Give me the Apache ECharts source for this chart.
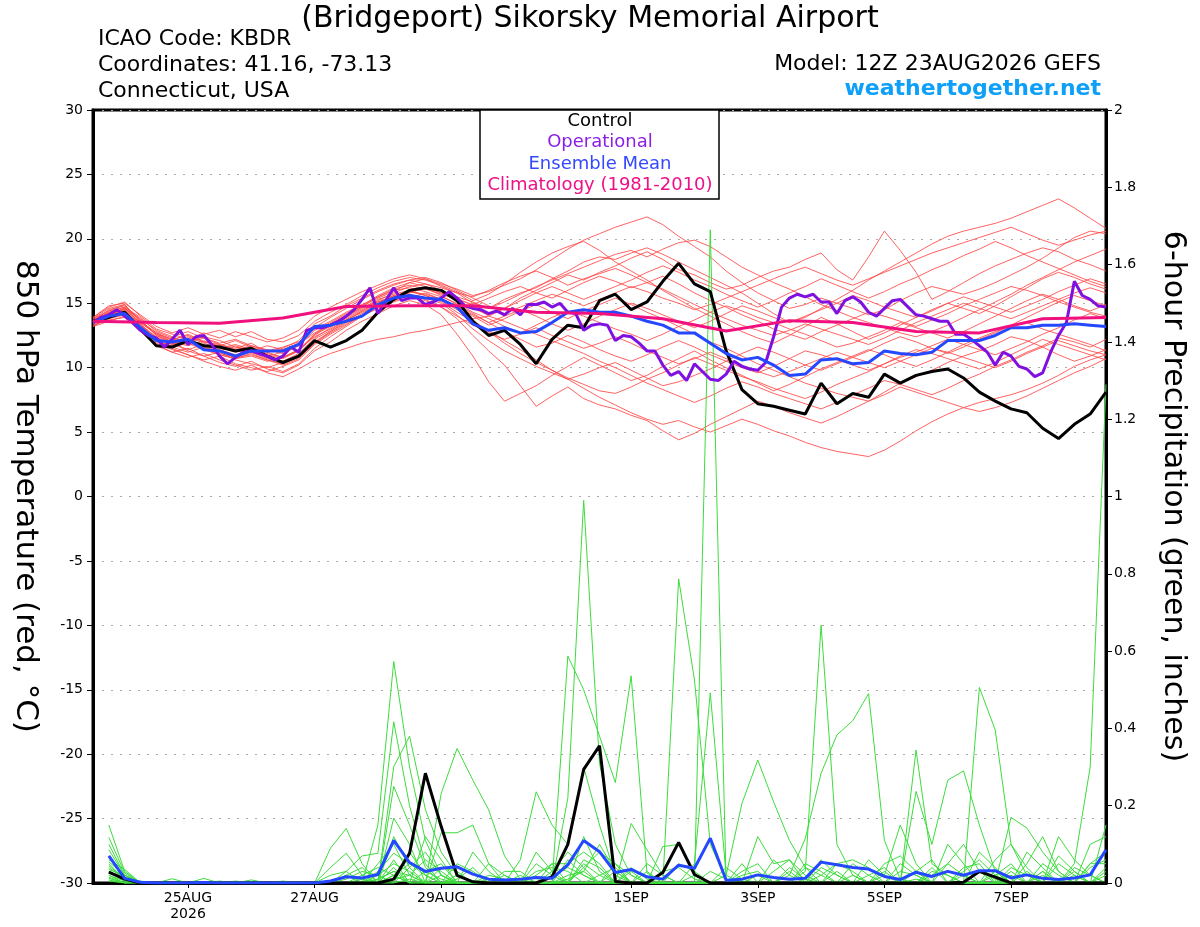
<!DOCTYPE html>
<html><head><meta charset="utf-8">
<script src="https://cdn.jsdelivr.net/npm/echarts@6/dist/echarts.min.js"></script>
<style>html,body{margin:0;padding:0;background:#fff}#c{width:1200px;height:927px}</style>
</head><body><div id="c"></div>
<script>
// ---- axis ticks (forecast hours from 12Z 23AUG2026) ----
const tickHours = [36, 84, 132, 204, 252, 300, 348];
const tickLabels = ['25AUG\n2026', '27AUG', '29AUG', '1SEP', '3SEP', '5SEP', '7SEP'];

// ---- 850 hPa temperature, 6-hourly from hour 0 ----
const controlT = [13.6,13.9,14.3,13.0,11.7,11.6,12.1,11.7,11.6,11.3,11.5,10.9,10.4,10.9,12.1,11.6,12.1,12.9,14.3,15.3,16.0,16.2,16.0,15.2,13.6,12.5,12.9,11.8,10.3,12.2,13.3,13.1,15.2,15.7,14.5,15.1,16.7,18.1,16.5,15.9,11.3,8.3,7.2,7.0,6.7,6.4,8.8,7.2,8.0,7.7,9.5,8.8,9.4,9.7,9.9,9.2,8.1,7.4,6.8,6.5,5.3,4.5,5.6,6.4,8.1];
const meanT = [13.5,14.0,14.2,13.1,12.1,12.0,12.2,11.4,11.3,10.9,11.3,11.3,11.3,11.8,13.2,13.3,13.6,14.0,14.9,15.4,15.6,15.4,15.3,14.7,13.4,12.9,13.1,12.7,12.8,13.5,14.3,14.5,14.3,14.3,14.0,13.6,13.3,12.7,12.7,11.9,11.1,10.6,10.8,10.2,9.4,9.5,10.6,10.7,10.3,10.4,11.3,11.1,11.0,11.2,12.1,12.1,12.1,12.5,13.1,13.1,13.3,13.3,13.4,13.3,13.2];
// operational run, 3-hourly from hour 0
const operationalT = [13.5,13.9,14.1,14.5,14.0,13.5,12.9,12.5,12.3,11.6,
12.2,12.9,11.8,12.4,12.5,11.8,10.9,10.3,10.8,11.2,
11.3,11.1,10.9,10.6,10.9,11.6,11.2,12.9,13.1,13.1,
13.3,13.6,14.0,14.5,15.3,16.2,14.2,15.2,16.2,15.2,
15.4,15.4,14.9,15.1,15.4,15.9,15.4,14.8,14.6,14.5,
14.2,14.4,14.1,14.6,14.1,14.9,14.9,15.1,14.7,15.0,
14.3,14.2,12.9,13.3,13.4,13.3,12.1,12.5,12.4,11.9,
11.3,11.3,10.2,9.4,9.7,9.0,10.3,9.7,9.1,9.0,
9.5,10.5,10.1,9.9,9.8,10.4,12.4,14.7,15.4,15.7,
15.5,15.7,15.1,15.1,14.2,15.2,15.5,15.1,14.3,14.0,
14.6,15.2,15.3,14.7,14.1,14.0,13.8,13.6,13.6,12.6,
12.6,12.2,11.7,11.2,10.2,11.2,10.9,10.1,9.9,9.3,
9.6,11.2,12.5,13.5,16.7,15.6,15.3,14.8,14.7];
// climatology, daily (every 24 h from hour 0)
const climT = [13.6,13.5,13.45,13.85,14.75,14.8,14.8,14.3,14.2,13.8,12.85,13.65,13.5,12.8,12.7,13.8,13.9];

// ensemble members (temperature), 6-hourly
const tMem01 = [13.8,14.6,14.9,13.5,12.6, 12.2,12.5,12.0,11.8,11.5,11.9,11.2,10.8,11.4, 12.6,13.2,13.8,14.5,15.2, 15.8,16.3,16.5,16.2,15.8,15.0, 14.6,15.3,15.8,16.2,16.9,17.5,18.2,18.6, 18.4,18.9,19.3,18.8,18.2,17.6,17.0,16.4, 15.8,15.0,14.2,13.5,13.9,14.6,15.3,16.0, 16.8,17.5,18.2,18.9,19.6,20.2,20.6,20.9, 21.2,21.6,22.1,22.6,23.1,22.4,21.6,20.8];
const tMem02 = [13.6,14.2,14.5,13.2,12.2, 11.6,11.9,11.4,11.0,10.7,11.1,10.6,10.3,10.8, 11.9,12.8,13.6,14.4,15.0, 15.6,15.9,16.2,15.8,15.4,14.8, 14.0,14.6,15.4,16.0,16.6,17.2,16.8,17.4, 17.9,18.5,19.0,18.4,17.6,17.2,16.6,16.1, 16.4,17.0,17.5,17.8,18.4,18.9,17.6,16.8, 18.6,20.6,19.1,17.4,15.3,15.9,16.6,17.3, 17.9,18.4,18.9,19.3,19.0,18.4,18.0,17.5];
const tMem03 = [13.4,14.0,14.6,13.8,12.9, 12.4,12.8,12.3,11.9,12.2,11.7,11.4,11.1,11.7, 12.9,13.5,14.2,14.8,15.4, 15.9,16.6,16.9,16.5,16.1,15.6, 15.9,16.4,16.9,17.6,18.4,19.2,19.9,20.4, 20.9,21.3,21.7,21.1,20.2,19.4,18.6,17.5, 16.6,15.8,15.2,14.6,14.9,15.4,15.0,14.6, 14.1,14.5,15.2,15.8,16.3,16.0,15.7,16.1, 16.6,17.2,17.8,18.5,19.3,20.1,20.6,20.4];
const tMem04 = [13.9,14.8,15.0,14.1,13.2, 12.7,13.1,12.6,12.9,12.4,12.8,12.2,12.0,12.5, 13.6,14.3,14.9,15.6,16.2, 16.7,17.0,16.8,16.4,15.9,15.2, 15.7,16.5,17.4,18.2,18.9,19.4,19.8,19.1, 18.2,17.5,16.8,16.0,15.3,14.6,14.0,13.4, 12.8,12.3,11.9,12.5,13.2,13.9,13.4,12.8, 12.2,12.7,13.3,13.9,14.5,15.0,14.6,14.2, 14.8,15.5,16.2,16.9,17.4,17.0,16.5,16.1];
const tMem05 = [13.2,13.9,14.2,13.0,11.8, 11.2,11.5,10.9,10.4,10.1,10.5,9.9,9.6,10.2, 11.3,12.0,12.9,13.6,14.2, 14.8,15.2,14.9,14.1,12.6,10.9, 8.9,7.4,8.0,8.6,9.4,10.1,10.8,10.2, 9.6,9.0,9.4,10.1,10.7,11.3,10.6,10.0, 9.4,8.8,8.2,8.7,9.3,9.9,10.4,10.9, 11.4,11.0,10.5,10.1,10.6,11.2,11.8,12.3, 12.8,13.2,13.5,13.0,12.6,12.2,11.8,11.3];
const tMem06 = [13.5,14.3,14.7,13.4,12.1, 11.5,11.0,10.6,10.9,10.3,10.0,9.7,10.1,10.6, 11.8,12.6,13.3,14.1,14.8, 15.2,15.6,15.3,14.7,13.8,12.5, 11.3,10.2,8.6,7.0,7.8,8.5,7.6,7.1, 6.8,6.3,5.9,5.1,4.4,4.9,5.6,6.2, 6.8,7.4,7.0,6.5,6.1,5.7,6.2,6.8, 7.4,8.1,8.8,9.3,9.8,10.4,10.9,11.3, 11.8,12.4,12.1,11.6,11.0,10.5,10.9,11.4];
const tMem07 = [13.7,14.1,14.3,13.1,12.0, 11.7,12.1,11.6,11.3,11.7,11.2,10.8,10.5,11.1, 12.3,13.1,13.9,14.6,15.3, 15.7,16.0,15.6,15.1,14.3,13.6, 12.9,12.1,11.4,10.6,9.8,9.1,8.4,7.7, 7.1,6.5,6.0,5.6,5.9,5.4,5.0,5.5, 6.0,5.6,5.1,4.7,4.2,3.8,3.5,3.3, 3.1,3.6,4.3,5.1,5.8,6.4,6.9,7.3, 7.6,7.9,8.3,8.8,9.4,10.1,10.6,11.0];
const tMem08 = [13.3,13.8,14.1,13.6,12.7, 12.2,11.9,12.3,11.8,11.4,11.7,11.3,11.6,12.0, 13.0,13.6,14.3,14.9,15.5, 16.0,16.2,15.9,15.5,15.0,14.3, 13.8,13.2,12.7,13.3,13.9,14.4,14.0,13.5, 13.0,12.6,12.1,12.6,13.2,13.7,14.3,14.8, 14.4,13.9,13.5,13.0,12.6,12.1,11.6,11.9, 12.4,12.9,13.5,13.1,12.7,12.3,12.8,13.4, 14.0,14.6,15.2,15.7,15.3,14.8,14.4,14.9];
const tMem09 = [13.6,14.5,14.8,13.7,12.5, 11.9,11.4,11.8,11.3,10.8,11.0,10.6,10.2,10.7, 11.9,12.7,13.4,14.0,14.7, 15.3,15.7,15.4,15.0,14.1,13.0, 12.1,11.3,10.7,10.1,9.6,9.1,9.5,10.0, 10.4,9.8,9.2,8.6,8.9,9.4,9.9,10.5, 11.1,11.6,11.2,10.7,10.2,9.8,10.3,10.8, 11.3,11.9,12.4,12.0,11.5,11.1,11.6,12.2, 12.7,13.3,13.9,14.5,15.1,15.6,15.2,14.8];
const tMem10 = [13.4,14.2,14.4,13.3,12.4, 11.8,12.2,11.7,11.4,11.0,11.4,10.9,11.2,11.8, 12.7,13.4,14.0,14.7,15.5, 16.1,16.4,16.1,15.7,15.3,14.9, 15.4,15.9,16.3,15.8,15.4,16.0,16.6,17.1, 16.7,16.2,16.6,17.1,16.5,15.8,15.2,14.7, 14.1,13.6,13.0,12.6,12.2,12.8,13.3,13.8, 14.3,14.0,13.6,13.2,13.7,14.2,14.8,15.3, 15.8,16.3,16.0,15.6,15.1,14.7,14.3,14.0];
const tMem11 = [13.5,14.0,14.4,13.2,12.3, 11.9,11.3,10.9,11.2,10.6,10.3,10.0,10.4,11.0, 12.2,12.9,13.7,14.3,14.9, 15.4,15.8,16.2,15.6,14.9,14.2, 13.5,12.8,12.2,11.6,11.9,12.5,12.0,11.4, 10.9,10.5,11.0,11.6,12.1,11.6,11.0,10.5, 10.0,9.6,10.1,10.7,11.3,11.0,10.6,10.2, 9.8,10.3,10.9,11.4,11.1,10.7,10.3,9.9, 10.4,11.0,11.6,12.2,11.8,11.4,11.0,10.6];
const tMem12 = [13.8,14.4,14.7,13.9,12.8, 12.3,12.0,12.4,12.1,11.6,11.3,11.7,11.4,11.9, 13.1,13.9,14.6,15.3,15.9, 16.4,16.8,16.5,16.0,15.5,15.1, 14.6,15.1,15.7,16.3,16.8,17.3,17.8,18.3, 18.8,19.1,18.6,19.2,19.7,19.9,19.4,18.6, 17.8,17.2,16.6,16.1,15.5,14.9,14.4,13.9, 13.5,13.1,12.7,12.4,12.8,13.3,13.9,14.5, 15.1,15.7,16.4,17.0,17.6,18.2,18.7,19.2];
const tMem13 = [13.6,14.3,14.5,13.5,12.6, 12.0,12.4,11.9,11.5,11.8,11.4,11.0,10.7,11.3, 12.5,13.3,14.0,14.7,15.1, 15.5,15.9,15.7,15.3,14.8,14.0, 13.3,13.8,14.4,14.9,14.3,13.8,14.4,14.9, 15.4,14.9,14.3,13.8,13.2,12.6,12.0,11.5, 10.9,10.3,9.8,9.3,8.8,8.4,8.0,7.7, 7.4,7.9,8.5,8.1,7.7,7.3,6.9,6.6, 6.9,7.3,7.8,8.4,9.0,9.6,10.1,10.7];
const tMem14 = [13.4,13.9,14.3,13.3,12.2, 11.6,11.2,11.6,11.0,10.7,10.9,10.5,10.8,11.4, 12.4,13.0,13.7,14.4,15.1, 15.6,15.4,15.8,15.3,14.7,14.1, 13.5,14.0,14.5,14.0,13.4,12.9,13.4,14.0, 14.5,15.0,14.6,14.1,13.6,13.1,13.6,14.2, 14.8,14.4,13.9,13.5,14.0,14.5,15.0,15.6, 15.2,14.7,14.3,13.9,14.4,15.0,15.5,15.1, 14.7,14.3,14.8,15.3,15.9,16.4,16.9,16.5];
const tMem15 = [13.3,13.7,13.9,12.9,11.9, 11.4,11.0,10.5,10.1,9.8,10.2,9.6,9.3,9.9, 10.6,11.1,11.5,11.9,12.2, 12.4,12.7,12.9,13.2,13.5,13.8, 14.0,13.6,13.1,12.6,12.1,11.6,11.1,10.5, 10.0,9.4,8.8,8.3,7.8,7.3,7.8,8.4, 8.9,8.5,8.0,7.6,7.2,6.8,7.3,7.9, 8.4,9.0,8.7,8.3,7.9,8.4,9.0,9.5, 10.1,10.6,11.2,11.7,12.3,12.0,11.6,12.2];
const tMem16 = [13.7,14.4,14.9,13.6,12.7, 12.1,12.6,12.0,11.7,12.1,11.6,11.2,11.5,12.1, 13.4,14.0,14.8,15.4,16.0, 16.5,16.8,17.0,16.6,16.0,15.4, 14.8,14.2,14.7,15.2,15.7,15.3,14.8,15.3, 15.8,16.3,15.9,15.4,15.0,14.5,14.9,15.4, 15.9,16.4,16.9,17.4,17.8,17.3,16.8,16.4, 16.9,17.4,17.9,18.4,18.9,19.3,19.7,20.1, 20.5,20.9,20.4,19.9,19.5,19.9,20.3,20.6];
const tMem17 = [13.5,14.1,14.6,13.4,12.3, 11.8,12.1,11.5,11.1,10.8,11.2,10.7,10.4,10.9, 12.0,12.8,13.5,14.2,14.9, 15.5,15.9,15.6,15.2,14.5,13.7, 12.8,11.9,11.1,10.4,9.8,9.2,8.7,8.2, 8.0,8.5,9.1,9.6,10.2,10.8,10.3,9.8, 9.3,8.9,8.4,8.0,7.6,8.1,8.7,9.2, 9.7,10.3,10.8,11.2,11.7,12.2,11.8,11.4, 11.0,11.5,12.0,12.6,13.1,13.7,14.2,13.8];
const tMem18 = [13.9,14.7,15.1,14.0,13.0, 12.6,12.2,12.7,12.3,12.8,12.4,12.0,12.3,12.9, 14.0,14.7,15.3,15.9,16.4, 16.9,17.2,16.9,16.3,15.8,15.5, 16.0,16.6,17.1,17.5,17.0,16.4,16.9,17.3, 17.7,17.2,16.6,16.1,15.5,14.9,14.3,13.8, 13.3,12.9,12.5,12.9,13.4,13.0,12.6,12.2, 11.8,12.3,12.9,13.5,14.0,14.5,15.0,14.6, 14.2,13.8,14.3,14.8,15.3,15.8,16.2,15.8];
const tMem19 = [13.2,13.6,14.0,12.8,11.7, 11.2,10.8,11.1,10.6,10.2,9.8,10.1,9.7,10.3, 11.5,12.4,13.2,14.0,14.6, 15.1,15.5,15.2,14.7,14.0,13.3, 12.7,12.2,12.6,13.1,12.5,12.0,11.5,11.9, 12.4,11.9,11.3,10.8,10.3,10.7,11.2,10.7, 10.2,9.7,9.3,9.7,10.2,10.7,11.2,10.8, 10.4,10.0,10.5,11.0,11.5,11.2,10.8,10.4, 10.0,10.5,11.1,11.6,12.1,11.7,11.3,11.0];
const tMem20 = [13.6,14.2,14.6,13.7,12.5, 12.0,11.7,12.1,11.6,11.2,11.5,11.1,10.8,11.3, 12.6,13.4,14.1,14.8,15.6, 16.2,16.6,16.3,15.8,15.2,14.6, 14.1,14.6,15.2,15.8,16.3,15.8,15.3,15.8, 16.3,16.8,17.4,17.9,17.4,16.8,16.3,15.7, 15.2,14.7,15.2,15.8,16.3,16.9,16.4,15.9, 15.4,15.9,16.5,17.0,17.6,18.1,18.7,19.2, 19.8,19.3,18.7,18.2,17.7,17.2,16.7,16.3];

// ---- 6-hour precipitation (inches), 6-hourly from hour 6 ----
const controlP = [0.028,0.01,0,0,0,0,0,0, 0,0,0,0,0,0,0,0, 0,0,0.01,0.077,0.284,0.146,0.02,0.003, 0,0,0,0,0.016,0.1,0.294,0.355, 0.004,0,0,0.027,0.105,0.022,0,0, 0,0,0,0,0,0,0,0, 0,0,0,0,0,0,0.002,0.03, 0.015,0,0,0,0,0,0,0];
const meanP = [0.07,0.012,0.002,0,0,0,0.001,0, 0,0,0,0,0,0,0.005,0.016, 0.013,0.022,0.11,0.053,0.03,0.038,0.042,0.023, 0.01,0.008,0.01,0.014,0.012,0.047,0.11,0.081, 0.027,0.035,0.016,0.01,0.046,0.038,0.116,0.007, 0.01,0.021,0.014,0.01,0.012,0.054,0.047,0.04, 0.036,0.017,0.009,0.028,0.017,0.03,0.02,0.032, 0.032,0.013,0.021,0.012,0.009,0.013,0.021,0.086];

const pMem01 = [.15,.03,0,0,0,0,0,0, 0,0,0,0,0,0,0,0, 0,.15,.573,.30,.11,.02,0,0, 0,0,0,0,0,0,.12,.03, 0,0,0,0,0,0,0,0, 0,0,0,0,.03,.667,.1,.02, 0,0,0,0,0,0,0,0, 0,0,0,0,0,.05,.3,1.29];
const pMem02 = [.118,.026,0,0,0,0,0,0, 0,0,0,0,0,0,0,.03, .07,.077,.417,.20,.05,0,0,0, 0,0,0,0,0,.587,.5,.38, .26,.536,.026,0,0,0,0,0, 0,0,0,.02,.115,.284,.383,.42, .49,.11,.01,0,0,0,0,0, 0,0,0,0,0,0,0,0];
const pMem03 = [.086,.02,0,0,0,0,.012,0, 0,0,0,0,0,0,.09,.141, .05,0,.301,.38,.19,.08,.02,0, 0,0,0,0,0,.22,.99,.31, .1,.02,0,0,0,0,0,0, 0,0,0,0,0,0,0,0, 0,0,0,0,0,0,0,.506, .396,.1,.02,0,0,0,0,0];
const pMem04 = [.07,.012,0,0,0,0,0,0, 0,0,0,0,0,0,.04,.077, .02,0,.168,.1,0,.232,.348,.266, .189,.07,.01,0,0,0,0,0, 0,0,0,0,.787,.525,.1,.01, 0,0,0,0,0,0,0,0, 0,0,0,.344,.05,.02,0,0, 0,0,0,0,0,0,0,0];
const pMem05 = [.06,.035,0,0,.011,0,0,0, 0,0,0,0,0,0,0,0, 0,.03,.077,.05,.02,0,0,0, 0,0,.06,.236,.15,.1,.3,.15, .02,0,0,0,0,0,1.69,0, .05,0,0,0,0,0,0,0, 0,0,0,.237,.1,.266,.29,.15, .03,0,0,0,0,0,0,0];
const pMem06 = [.05,.01,0,0,0,0,0,0, 0,0,0,0,0,0,0,.02, 0,0,.04,0,0,.13,.13,.15, .05,0,0,0,0,0,0,0, 0,.154,.086,.02,0,.05,.492,.02, .206,.318,.21,.11,.04,0,0,0, 0,0,0,0,0,0,0,0, 0,.17,.142,.08,.03,0,0,.15];
const pMem07 = [.04,.01,0,0,0,0,0,0, 0,.008,0,0,0,0,0,0, .02,.04,.02,.05,.03,.01,0,0, 0,0,0,0,.05,.05,.08,.05, 0,0,0,.094,.1,.02,0,0, 0,.12,.05,.06,0,0,0,0, 0,.02,.15,.05,0,0,0,0, 0,0,.05,.12,.03,0,.04,.06];
const pMem08 = [.03,.005,0,0,0,0,0,0, 0,0,0,0,0,0,0,0, 0,0,.02,0,.12,.06,0,0, 0,.03,.03,0,0,0,.05,.02, 0,0,.03,0,0,0,0,.02, 0,0,0,0,0,0,.05,.06, .04,0,0,0,0,.1,.05,0, .06,.1,.04,0,.12,.06,.02,0];
const pMem09 = [.02,0,.005,0,0,0,0,.005, 0,0,0,0,0,0,.02,.03, 0,.01,.03,.02,0,0,.05,.03, 0,0,0,.08,.03,0,0,0, .05,.02,0,0,0,0,0,0, .03,.05,0,0,0,.06,.02,0, 0,0,0,.03,.06,0,0,.08, .04,0,0,.03,0,.02,0,.03];
const pMem10 = [.1,.02,0,0,0,0,0,0, .005,0,0,0,0,0,0,0, 0,0,.25,.15,.04,0,.02,0, .05,.02,0,0,0,.02,.03,.1, .03,0,0,0,0,0,0,0, 0,0,.03,.06,.02,0,0,0, 0,.05,.07,.03,0,0,.04,.05, 0,.03,0,0,0,0,.1,.12];
const pMem11 = [.035,.02,0,0,0,0,0,0, 0,0,0,.005,0,0,0,0, 0,.02,.05,.03,0,.04,.03,0, 0,0,0,0,.02,.04,.02,0, 0,0,0,.03,.04,.01,0,0, 0,0,0,0,0,.02,.05,.03, 0,0,0,0,.02,.05,.02,0, 0,0,.08,.04,0,.03,0,0];
const pMem12 = [.025,.015,0,0,0,0,0,0, 0,0,0,0,0,0,0,.01, .03,.02,0,.08,.02,0,0,.08, .03,0,0,.03,.04,.03,0,0, 0,.04,.01,0,0,0,.03,.01, 0,0,0,0,.05,.03,0,0, .02,.04,0,0,0,0,0,0, .02,.05,0,0,.05,.02,0,0];
const pMem13 = [.012,0,0,0,0,0,0,0, 0,0,0,0,0,0,0,0, 0,0,.01,.02,.06,.03,0,0, 0,0,.02,0,0,0,.04,.08, .05,0,0,0,0,0,0,0, .02,.03,0,0,0,0,0,0, 0,0,.03,.02,0,0,0,.03, .01,0,0,0,0,0,.05,.05];
const pMem14 = [.045,.01,0,0,0,0,0,0, 0,0,0,0,0,0,0,0, 0,0,.12,.04,0,0,0,0, .02,.01,0,0,0,.06,.02,0, 0,0,0,0,.05,.03,0,0, 0,0,0,.03,0,0,0,.05, .02,0,0,0,0,.05,.1,.03, 0,0,0,.05,.02,0,0,0];
const pMem15 = [.008,0,0,0,0,0,0,0, 0,0,0,0,0,0,0,0, 0,.05,.1,.02,0,.02,0,0, 0,0,0,.05,.02,0,0,0, .03,0,0,0,0,0,0,0, 0,0,.06,.02,0,0,.03,0, 0,0,0,0,.04,0,0,0, 0,.04,.02,0,0,0,0,.04];
const pMem16 = [.055,.02,0,0,0,0,0,0, 0,0,0,0,0,0,0,0, .01,0,.06,0,.03,.05,0,0, 0,.02,0,0,0,0,.06,.04, 0,0,.05,.02,0,0,0,0, 0,.02,0,0,.04,.02,0,0, 0,.03,0,0,0,0,.03,.06, .02,0,0,0,0,.04,.02,0];
const pMem17 = [.005,0,0,0,0,0,0,0, 0,0,0,0,0,0,0,0, 0,0,0,.01,0,0,.01,.04, 0,0,0,0,0,.01,.03,0, 0,0,0,0,0,.02,0,0, 0,0,0,0,0,0,0,.02, 0,0,.05,.02,0,0,0,0, 0,.02,0,.02,0,0,0,0];
const pMem18 = [.03,.01,0,0,0,0,0,0, 0,0,0,0,0,0,0,0, 0,.01,.03,0,0,0,0,0, 0,0,0,0,.03,.08,.04,0, 0,0,0,0,0,0,0,.04, .01,0,0,0,0,0,0,0, .06,.02,0,0,0,0,0,0, .03,0,0,0,.07,.03,0,0];
const pMem19 = [.015,0,0,0,0,0,0,0, 0,0,0,0,0,0,0,.02, .04,0,.02,0,0,0,0,0, .01,0,0,0,0,0,0,.02, .04,0,0,0,0,0,0,0, 0,0,0,.04,.01,0,0,0, 0,0,0,0,.03,.02,0,0, 0,0,.03,0,0,0,0,.02];
const pMem20 = [.02,.005,0,0,0,0,0,0, 0,0,0,0,.002,0,0,0, 0,0,0,.04,.08,.02,0,0, 0,0,0,.02,.05,0,0,0, 0,.03,0,0,0,0,0,0, 0,0,0,0,0,.04,.02,0, 0,0,0,.01,0,0,.02,0, 0,0,0,.03,0,0,.05,.08];

const tempMembers = [tMem01,tMem02,tMem03,tMem04,tMem05,tMem06,tMem07,tMem08,tMem09,tMem10,tMem11,tMem12,tMem13,tMem14,tMem15,tMem16,tMem17,tMem18,tMem19,tMem20];
const precipMembers = [pMem01,pMem02,pMem03,pMem04,pMem05,pMem06,pMem07,pMem08,pMem09,pMem10,pMem11,pMem12,pMem13,pMem14,pMem15,pMem16,pMem17,pMem18,pMem19,pMem20];

function pairs(arr, stepHours, startHour) { return arr.map((v, k) => [startHour + k * stepHours, v]); }

const FONT = 'DejaVu Sans';
const series = [];
tempMembers.forEach(m => series.push({type:'line', yAxisIndex:0, data:pairs(m,6,0), symbol:'none', silent:true,
  lineStyle:{color:'rgba(255,70,70,0.85)', width:1}}));
precipMembers.forEach(m => series.push({type:'line', yAxisIndex:1, data:pairs(m,6,6), symbol:'none', silent:true,
  lineStyle:{color:'#3cdc3c', width:1}}));
series.push({type:'line', yAxisIndex:1, data:pairs(controlP,6,6), symbol:'none', lineStyle:{color:'#000', width:3}});
series.push({type:'line', yAxisIndex:1, data:pairs(meanP,6,6), symbol:'none', lineStyle:{color:'#2448ff', width:3}});
series.push({type:'line', yAxisIndex:0, data:pairs(controlT,6,0), symbol:'none', lineStyle:{color:'#000', width:3}});
series.push({type:'line', yAxisIndex:0, data:pairs(operationalT,3,0), symbol:'none', lineStyle:{color:'#8010e0', width:3}});
series.push({type:'line', yAxisIndex:0, data:pairs(meanT,6,0), symbol:'none', lineStyle:{color:'#2448ff', width:3}});
series.push({type:'line', yAxisIndex:0, data:pairs(climT,24,0), symbol:'none', lineStyle:{color:'#f0107e', width:3}});

const labelMap = {};
tickHours.forEach((h, k) => labelMap[h] = tickLabels[k]);

const txt = (text, x, y, size, align, color, weight) => ({type:'text', z:100, style:{text, x, y, fontSize:size, fontFamily:FONT,
  fontWeight:weight||'normal', fill:color||'#000', textAlign:align||'left', textVerticalAlign:'middle'}});

const chart = echarts.init(document.getElementById('c'), null, {renderer:'canvas'});
chart.setOption({
  animation:false,
  backgroundColor:'#fff',
  textStyle:{fontFamily:FONT},
  grid:{left:93, right:94, top:110, bottom:44, show:true, borderColor:'#000', borderWidth:3, backgroundColor:'transparent'},
  xAxis:{type:'value', min:0, max:384,
    axisLine:{show:true, onZero:false, lineStyle:{color:'#000', width:3}},
    axisTick:{show:true, customValues:tickHours, length:5, lineStyle:{color:'#000', width:1}},
    axisLabel:{customValues:tickHours, formatter:v => labelMap[v] || '', color:'#000', fontSize:14, lineHeight:16, margin:7, fontFamily:FONT},
    splitLine:{show:false}},
  yAxis:[
    {type:'value', position:'left', min:-30, max:30, interval:5,
      name:'850 hPa Temperature (red, °C)', nameLocation:'middle', nameRotate:-90, nameGap:52,
      nameTextStyle:{fontSize:31, color:'#000', fontFamily:FONT},
      axisLine:{show:true, onZero:false, lineStyle:{color:'#000', width:3}},
      axisTick:{show:true, length:6, lineStyle:{color:'#000', width:1}},
      axisLabel:{color:'#000', fontSize:14, margin:10, fontFamily:FONT},
      splitLine:{show:true, lineStyle:{color:'#aaaaaa', width:1, type:[2,7]}}},
    {type:'value', position:'right', min:0, max:2, interval:0.2,
      name:'6-hour Precipitation (green, inches)', nameLocation:'middle', nameRotate:-90, nameGap:52,
      nameTextStyle:{fontSize:30, color:'#000', fontFamily:FONT},
      axisLine:{show:true, onZero:false, lineStyle:{color:'#000', width:3}},
      axisTick:{show:true, length:6, lineStyle:{color:'#000', width:1}},
      axisLabel:{color:'#000', fontSize:14, margin:8, fontFamily:FONT, formatter:v => String(Math.round(v*10)/10)},
      splitLine:{show:false}}
  ],
  graphic:[
    txt('(Bridgeport) Sikorsky Memorial Airport', 590, 19, 30, 'center'),
    txt('ICAO Code: KBDR', 98, 39, 22),
    txt('Coordinates: 41.16, -73.13', 98, 65, 22),
    txt('Connecticut, USA', 98, 91, 22),
    txt('Model: 12Z 23AUG2026 GEFS', 1101, 64, 22, 'right'),
    txt('weathertogether.net', 1101, 89, 22, 'right', '#0ea0f8', 'bold'),
    {type:'rect', z:99, shape:{x:480, y:110, width:239, height:89}, style:{fill:'#fff', stroke:'#000', lineWidth:1.5}},
    txt('Control', 600, 121, 18, 'center', '#000'),
    txt('Operational', 600, 142, 18, 'center', '#8a1ee8'),
    txt('Ensemble Mean', 600, 164, 18, 'center', '#3348ff'),
    txt('Climatology (1981-2010)', 600, 185, 18, 'center', '#ee1088')
  ],
  series
});
</script></body></html>
